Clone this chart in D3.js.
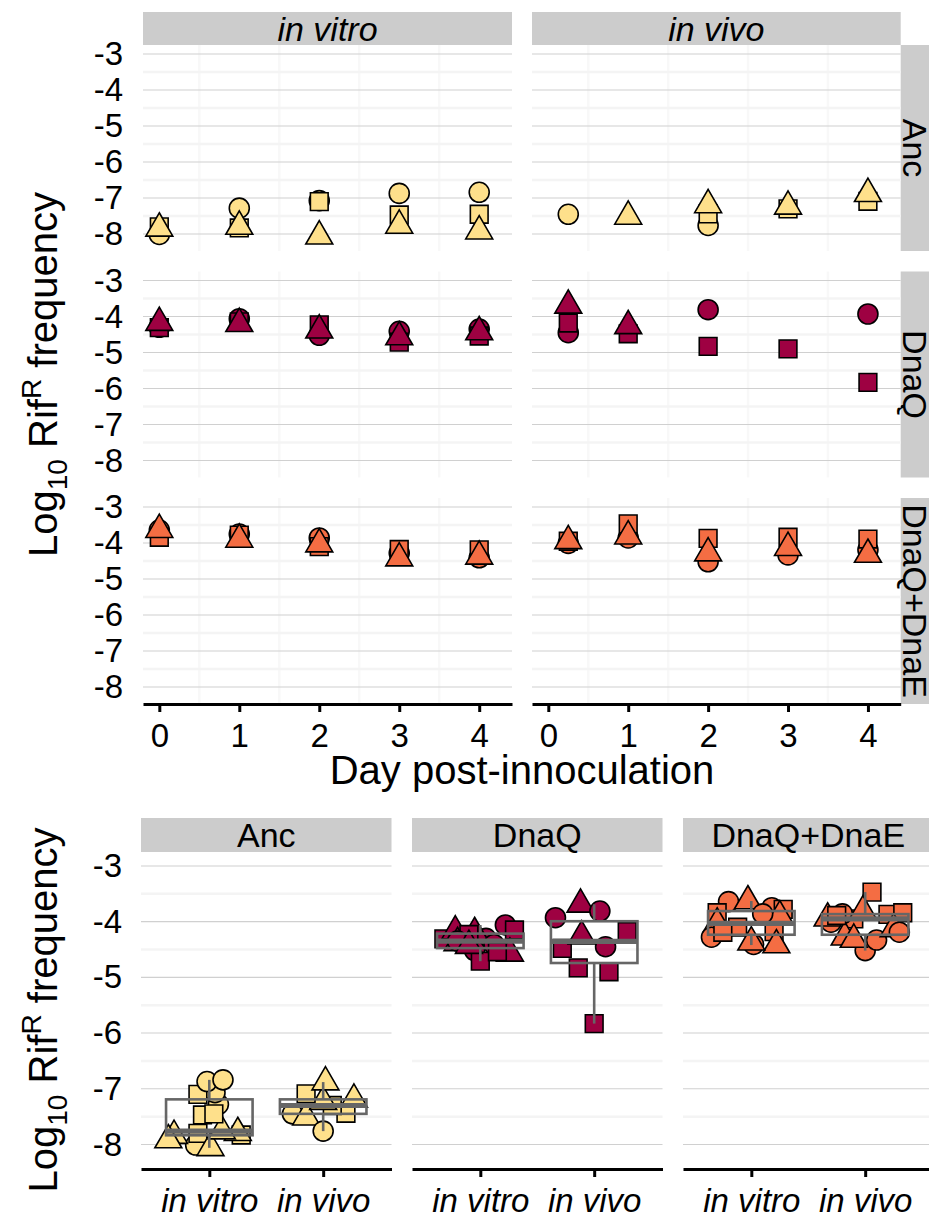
<!DOCTYPE html>
<html><head><meta charset="utf-8">
<script src="https://cdn.jsdelivr.net/npm/d3@7"></script>
<style>
html,body{margin:0;padding:0;background:#fff;}
svg{display:block;}
text{font-family:"Liberation Sans",Arial,Helvetica,sans-serif;fill:#000;}
</style></head><body>
<svg id="chart" width="929" height="1218"></svg>
<script>
// ---------------- data ----------------
const strains = ["Anc", "DnaQ", "DnaQ+DnaE"];
const environments = ["in vitro", "in vivo"];
const vitroDays = [0, 1, 2, 3, 4];
const vivoDays = [0.25, 1, 2, 3, 4];
const replicateShapes = ["circle", "square", "triangle"];
const strainColors = ["#FEE08B", "#9E0142", "#F46D43"];
const yTicks = [-3, -4, -5, -6, -7, -8];
const yMinorTicks = [-3.5, -4.5, -5.5, -6.5, -7.5];
const dayTicks = [0, 1, 2, 3, 4];
const dayMinorTicks = [0.5, 1.5, 2.5, 3.5];

// Log10 RifR frequency: rows = replicate (circle, square, triangle), columns = day; null = no value
const ancVitro = [
  [-8.01, -7.28, -7.07, -6.87, -6.84],
  [-7.80, -7.83, -7.10, -7.47, -7.45],
  [-7.84, -7.79, -8.06, -7.76, -7.92]];
const ancVivo = [
  [-7.45, null, -7.76, null, null],
  [null, null, -7.44, -7.30, -7.09],
  [null, -7.51, -7.19, -7.23, -6.88]];
const dnaqVitro = [
  [-4.30, -4.06, -4.52, -4.41, -4.35],
  [-4.31, -4.15, -4.23, -4.71, -4.54],
  [-4.17, -4.20, -4.38, -4.57, -4.43]];
const dnaqVivo = [
  [-4.45, null, -3.81, null, -3.93],
  [-4.18, -4.48, -4.83, -4.90, -5.83],
  [-3.69, -4.26, null, null, null]];
const dnaqeVitro = [
  [-3.64, -3.75, -3.86, -4.28, -4.41],
  [-3.84, -3.78, -4.10, -4.18, -4.19],
  [-3.63, -3.90, -4.03, -4.42, -4.37]];
const dnaqeVivo = [
  [-4.01, -3.86, -4.52, -4.33, -4.19],
  [-3.95, -3.47, -3.87, -3.84, -3.89],
  [-3.94, -3.81, -4.28, -4.13, -4.32]];

// horizontal jitter (fraction of category spacing)
const ancVitroJitter = [
  [-0.12, 0.08, 0.05, -0.02, 0.12],
  [-0.10, 0.28, -0.10, -0.06, 0.04],
  [-0.31, 0.25, 0.01, 0.11, -0.36]];
const ancVivoJitter = [
  [-0.27, null, 0.00, null, null],
  [null, null, 0.20, 0.08, -0.15],
  [null, -0.15, 0.27, 0.00, 0.02]];
const dnaqVitroJitter = [
  [0.05, 0.22, -0.05, 0.12, -0.20],
  [-0.32, 0.30, -0.10, 0.00, 0.15],
  [-0.22, -0.05, -0.20, 0.26, -0.10]];
const dnaqVivoJitter = [
  [0.10, null, 0.05, null, -0.34],
  [0.29, -0.28, -0.14, 0.13, 0.00],
  [-0.12, -0.11, null, null, null]];
const dnaqeVitroJitter = [
  [-0.20, 0.18, 0.10, -0.35, 0.02],
  [-0.30, 0.28, -0.12, 0.20, -0.25],
  [-0.03, 0.25, -0.30, 0.22, 0.00]];
const dnaqeVivoJitter = [
  [-0.30, -0.20, 0.00, 0.10, 0.30],
  [-0.10, 0.06, 0.20, 0.33, -0.25],
  [-0.33, -0.02, -0.18, 0.25, -0.10]];

const values = [[ancVitro, ancVivo], [dnaqVitro, dnaqVivo], [dnaqeVitro, dnaqeVivo]];
const jitters = [[ancVitroJitter, ancVivoJitter], [dnaqVitroJitter, dnaqVivoJitter], [dnaqeVitroJitter, dnaqeVivoJitter]];
const envDays = [vitroDays, vivoDays];

// ---------------- drawing ----------------
const svg = d3.select("#chart");
const FONT_TICK = 33, FONT_STRIP = 34, FONT_TITLE = 40;
const symbolTypes = {circle: d3.symbolCircle, square: d3.symbolSquare, triangle: d3.symbolTriangle};
const symbolArea = 314;

function drawPoint(g, x, y, shape, color) {
  g.append("path")
    .attr("d", d3.symbol().type(symbolTypes[shape]).size(symbolArea)())
    .attr("transform", `translate(${x},${y})`)
    .attr("fill", color).attr("stroke", "#000").attr("stroke-width", 1.6);
}

function hGrid(g, yScale, x0, x1) {
  yMinorTicks.forEach(v => g.append("line").attr("x1", x0).attr("x2", x1)
    .attr("y1", yScale(v)).attr("y2", yScale(v)).attr("stroke", "#f4f4f4").attr("stroke-width", 2.5));
  yTicks.forEach(v => g.append("line").attr("x1", x0).attr("x2", x1)
    .attr("y1", yScale(v)).attr("y2", yScale(v)).attr("stroke", "#d0d0d0").attr("stroke-width", 1.1));
}

function styleAxis(ax, italic) {
  ax.attr("font-size", FONT_TICK).attr("font-family", '"Liberation Sans",Arial,sans-serif');
  ax.selectAll("text").attr("fill", "#000").style("font-style", italic ? "italic" : "normal");
  ax.selectAll("line").attr("stroke", "#000").attr("stroke-width", 3);
  ax.select(".domain").attr("stroke", "#000").attr("stroke-width", 3);
}

function yLabel(cx, cy) {
  const t = svg.append("text").attr("transform", `translate(${cx},${cy}) rotate(-90)`)
    .attr("text-anchor", "middle").attr("font-size", FONT_TITLE);
  t.append("tspan").text("Log");
  t.append("tspan").attr("font-size", 28).attr("dy", 10).text("10");
  t.append("tspan").attr("dy", -10).text(" Rif");
  t.append("tspan").attr("font-size", 28).attr("dy", -16).text("R");
  t.append("tspan").attr("dy", 16).text(" frequency");
}

// ---- top: time series facets ----
const colX = [[143, 512], [532, 900.7]];
const rowY = [[45, 251], [271.5, 477.5], [498, 704]];
const yDomainTop = [-8.47, -2.75];
const xDomainTop = [-0.204, 4.41];

colX.forEach((cx, c) => {
  svg.append("rect").attr("x", cx[0]).attr("y", 12).attr("width", cx[1] - cx[0]).attr("height", 33).attr("fill", "#cccccc");
  svg.append("text").attr("x", (cx[0] + cx[1]) / 2).attr("y", 40.5).attr("text-anchor", "middle")
    .attr("font-size", FONT_STRIP).style("font-style", "italic").text(environments[c]);
});

rowY.forEach((ry, r) => {
  svg.append("rect").attr("x", 900.7).attr("y", ry[0]).attr("width", 34).attr("height", ry[1] - ry[0]).attr("fill", "#cccccc");
  svg.append("text").attr("transform", `translate(902.5,${(ry[0] + ry[1]) / 2}) rotate(90)`)
    .attr("text-anchor", "middle").attr("font-size", FONT_STRIP).text(strains[r]);
  const y = d3.scaleLinear().domain(yDomainTop).range([ry[1], ry[0]]);
  colX.forEach((cx, c) => {
    const x = d3.scaleLinear().domain(xDomainTop).range(cx);
    const g = svg.append("g");
    dayMinorTicks.forEach(d => g.append("line").attr("x1", x(d)).attr("x2", x(d))
      .attr("y1", ry[0]).attr("y2", ry[1]).attr("stroke", "#f8f8f8").attr("stroke-width", 2.5));
    hGrid(g, y, cx[0], cx[1]);
    const vals = values[r][c];
    envDays[c].forEach((day, i) => {
      replicateShapes.forEach((shape, k) => {
        const v = vals[k][i];
        if (v !== null) drawPoint(g, x(day), y(v), shape, strainColors[r]);
      });
    });
    if (c === 0) {
      const ay = svg.append("g").attr("transform", `translate(${cx[0]},0)`)
        .call(d3.axisLeft(y).tickValues(yTicks).tickSize(0).tickPadding(20).tickFormat(d => String(d)));
      styleAxis(ay, false);
      ay.select(".domain").remove();
    }
    if (r === rowY.length - 1) {
      const ax = svg.append("g").attr("transform", `translate(0,${ry[1]})`)
        .call(d3.axisBottom(x).tickValues(dayTicks).tickSize(8).tickSizeOuter(0).tickPadding(12).tickFormat(d => String(d)));
      styleAxis(ax, false);
    }
  });
});

svg.append("text").attr("x", 522).attr("y", 784).attr("text-anchor", "middle")
  .attr("font-size", FONT_TITLE).text("Day post-innoculation");
yLabel(57, 374.5);

// ---- bottom: pooled boxplots ----
const panelX = [[141, 391.5], [412, 662.5], [683, 933.5]];
const panelY = [852, 1169];
const yDomainBottom = [-8.44, -2.75];
const yb = d3.scaleLinear().domain(yDomainBottom).range([panelY[1], panelY[0]]);

panelX.forEach((px, s) => {
  svg.append("rect").attr("x", px[0]).attr("y", 818).attr("width", px[1] - px[0]).attr("height", 34).attr("fill", "#cccccc");
  svg.append("text").attr("x", (px[0] + px[1]) / 2).attr("y", 846.5).attr("text-anchor", "middle")
    .attr("font-size", FONT_STRIP).text(strains[s]);
  const x = d3.scaleLinear().domain([0.4, 2.6]).range(px);
  const g = svg.append("g");
  hGrid(g, yb, px[0], px[1]);
  // points
  environments.forEach((env, e) => {
    const vals = values[s][e], jit = jitters[s][e];
    envDays[e].forEach((day, i) => {
      replicateShapes.forEach((shape, k) => {
        const v = vals[k][i];
        if (v !== null) drawPoint(g, x(e + 1 + jit[k][i]), yb(v), shape, strainColors[s]);
      });
    });
  });
  // boxplots
  environments.forEach((env, e) => {
    const all = values[s][e].flat().filter(v => v !== null).sort(d3.ascending);
    const q1 = d3.quantileSorted(all, 0.25), med = d3.quantileSorted(all, 0.5), q3 = d3.quantileSorted(all, 0.75);
    const iqr = q3 - q1;
    const lo = d3.min(all.filter(v => v >= q1 - 1.5 * iqr));
    const hi = d3.max(all.filter(v => v <= q3 + 1.5 * iqr));
    const cxp = x(e + 1), bx0 = x(e + 1 - 0.38), bx1 = x(e + 1 + 0.38);
    const col = "#666666";
    g.append("line").attr("x1", cxp).attr("x2", cxp).attr("y1", yb(q3)).attr("y2", yb(hi)).attr("stroke", col).attr("stroke-width", 2.6);
    g.append("line").attr("x1", cxp).attr("x2", cxp).attr("y1", yb(q1)).attr("y2", yb(lo)).attr("stroke", col).attr("stroke-width", 2.6);
    g.append("rect").attr("x", bx0).attr("y", yb(q3)).attr("width", bx1 - bx0).attr("height", yb(q1) - yb(q3))
      .attr("fill", "none").attr("stroke", col).attr("stroke-width", 2.6);
    g.append("line").attr("x1", bx0).attr("x2", bx1).attr("y1", yb(med)).attr("y2", yb(med)).attr("stroke", col).attr("stroke-width", 5.2);
  });
  if (s === 0) {
    const ay = svg.append("g").attr("transform", `translate(${px[0]},0)`)
      .call(d3.axisLeft(yb).tickValues(yTicks).tickSize(0).tickPadding(19).tickFormat(d => String(d)));
    styleAxis(ay, false);
    ay.select(".domain").remove();
  }
  const ax = svg.append("g").attr("transform", `translate(0,${panelY[1]})`)
    .call(d3.axisBottom(x).tickValues([1, 2]).tickSize(8).tickSizeOuter(0).tickPadding(12).tickFormat((d, i) => environments[i]));
  styleAxis(ax, true);
});

yLabel(57, 1010);
</script>
</body></html>
